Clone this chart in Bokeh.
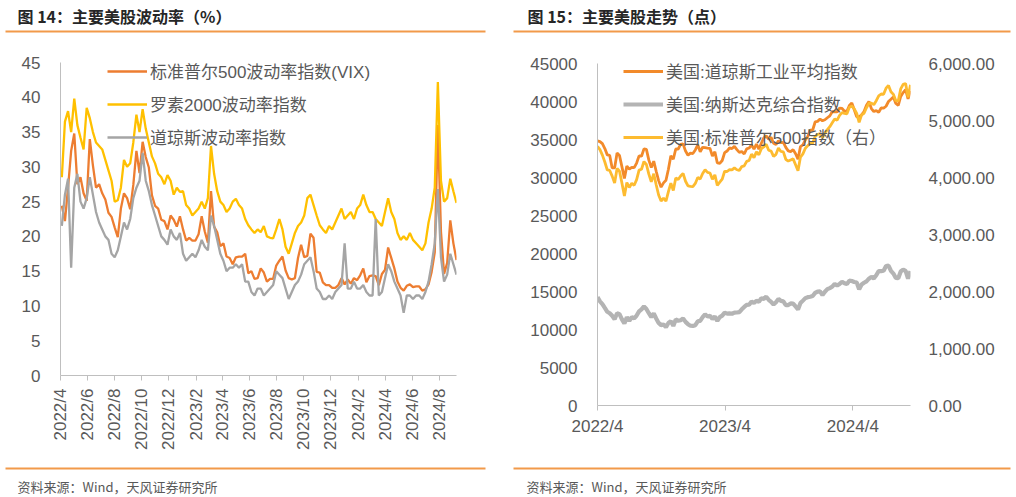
import math
import pandas as pd
from bokeh.plotting import figure
from bokeh.models import (Range1d, LinearAxis, FixedTicker, NumeralTickFormatter,
                          Legend, LegendItem, Label)
from bokeh.layouts import row, column
from bokeh.embed import file_html
from bokeh.resources import INLINE

# ---------------- data: chart 14 (weekly samples) ----------------
vol_start = "2022-04-04"
vix = [24.4, 22.2, 27.0, 32.3, 34.8, 27.5, 28.5, 26.2, 25.1, 34.0,
       30.2, 27.0, 27.5, 26.2, 25.3, 23.4, 22.8, 21.3, 19.9, 24.0,
       26.2, 25.5, 23.9, 27.4, 32.3, 29.1, 33.6, 31.4, 29.9, 25.9,
       24.4, 24.0, 22.4, 22.2, 21.0, 23.0, 22.4, 21.4, 22.9, 21.0,
       19.4, 19.8, 19.4, 19.4, 20.3, 22.9, 20.7, 19.1, 26.5, 21.4,
       20.6, 18.6, 19.0, 17.1, 16.9, 16.0, 17.0, 17.1, 17.1, 17.5,
       14.7, 15.0, 13.9, 14.0, 15.4, 14.8, 13.5, 13.9, 13.9, 15.8,
       16.5, 17.1, 15.1, 14.0, 13.8, 14.0, 16.9, 18.8, 17.0, 17.2,
       20.4, 19.8, 14.9, 14.8, 13.4, 13.0, 13.0, 12.6, 12.6, 13.0,
       14.0, 13.1, 13.8, 13.2, 14.0, 13.7, 14.4, 15.4, 13.4, 14.3,
       14.4, 14.3, 13.0, 14.6, 15.2, 18.4, 16.9, 15.4, 13.5, 12.6,
       12.2, 12.9, 13.1, 12.7, 12.8, 12.8, 12.2, 12.4, 13.1, 14.9,
       17.7, 36.0, 20.7, 14.6, 16.2, 22.3, 19.0, 16.6]
rvx = [28.5, 36.5, 38.0, 35.0, 39.8, 36.0, 34.2, 32.5, 38.5, 37.0,
       35.0, 33.5, 33.0, 32.5, 31.0, 29.5, 28.0, 25.0, 25.2, 27.0,
       31.0, 30.0, 30.5, 33.5, 37.5, 35.0, 38.3, 35.5, 33.5, 31.5,
       30.5, 29.0, 28.5, 27.5, 28.8, 28.0, 26.0, 27.0, 26.4, 26.5,
       24.5, 24.0, 23.0, 23.5, 24.0, 25.0, 24.0, 25.5, 33.0, 29.0,
       26.5, 25.0, 24.5, 23.5, 24.0, 25.0, 25.4, 24.5, 24.0, 22.5,
       21.6, 21.0, 20.5, 21.0, 20.6, 21.5, 20.0, 19.8, 19.7, 21.0,
       22.5, 21.0, 18.5, 17.5, 19.0, 20.5, 21.5, 22.0, 23.0, 25.5,
       26.0, 24.5, 23.0, 21.6, 21.0, 20.5, 21.5, 21.0, 22.0, 23.0,
       24.0, 22.5, 23.0, 23.5, 22.5, 24.0, 24.5, 26.0, 24.5, 23.5,
       23.5, 22.5, 22.0, 21.5, 23.5, 25.5, 23.5, 22.5, 20.5, 19.5,
       20.0, 19.5, 20.5, 19.5, 19.0, 18.5, 18.0, 19.0, 22.0, 24.0,
       27.0, 42.2, 28.0, 25.0, 25.5, 28.3, 26.5, 24.8]
vxd = [21.5, 26.0, 28.3, 15.5, 27.0, 29.0, 25.0, 24.0, 25.5, 28.5,
       26.0, 23.5, 22.0, 21.0, 20.0, 19.5, 17.5, 17.0, 18.0, 20.0,
       22.0, 21.0, 22.5, 25.5, 27.0, 28.0, 32.0, 28.0, 26.5, 24.5,
       23.0, 21.5, 20.0, 19.5, 18.8, 21.0, 20.0, 19.5, 20.5, 17.5,
       16.5, 17.0, 17.5, 17.0, 18.0, 19.5, 18.5, 18.0, 23.0, 21.5,
       19.5, 17.5, 16.5, 15.0, 15.5, 15.5, 16.0, 15.5, 16.0, 13.5,
       13.5, 12.0, 11.5, 12.5, 12.5, 11.5, 12.0, 12.5, 13.0, 15.0,
       14.5, 14.0, 12.5, 11.0, 12.0, 13.0, 13.5, 14.5, 16.0, 16.5,
       17.0, 15.0, 12.5, 12.0, 11.0, 11.0, 11.5, 11.0, 12.0, 12.5,
       13.0, 19.0, 12.5, 12.5, 13.5, 12.5, 12.5, 13.0, 12.0, 11.5,
       11.5, 22.5, 11.5, 12.0, 14.0, 16.0, 15.0, 13.5, 12.5, 11.5,
       9.0, 11.5, 11.5, 11.0, 11.5, 11.5, 11.0, 12.0, 13.5, 16.0,
       19.0, 26.8, 17.0, 13.5, 14.5, 17.5, 16.0, 14.5]
vol_names = ["标准普尔500波动率指数(VIX)", "罗素2000波动率指数", "道琼斯波动率指数"]
vol_ticks = ["2022/4", "2022/6", "2022/8", "2022/10", "2022/12", "2023/2", "2023/4",
             "2023/6", "2023/8", "2023/10", "2023/12", "2024/2", "2024/4", "2024/6", "2024/8"]
vol_yticks = [0, 5, 10, 15, 20, 25, 30, 35, 40, 45]

# ---------------- data: chart 15 (weekly closes) ----------------
idx_start = "2022-04-01"
dow = [34818, 34721, 34451, 33811, 32977,
       32899, 31261, 31262, 33213,
       32899, 31393, 29888, 31501,
       31097, 31338, 31288, 31899, 32845,
       32803, 33761, 33706, 32283,
       31318, 32152, 30822, 29590, 28726,
       29297, 29635, 31083, 32861,
       32403, 33748, 33746, 34347,
       34430, 33477, 32920, 33204, 33147,
       33631, 34303, 33375, 33978,
       33926, 33869, 33827, 32817,
       33391, 31910, 31862, 32238, 33274,
       33485, 33886, 33809, 34098,
       33674, 33300, 33427, 33093,
       33762, 33877, 34299, 33727, 34408,
       33734, 34509, 35228, 35459,
       35066, 35281, 34500, 34346,
       34838, 34577, 34618, 33964, 33508,
       33407, 33670, 33127, 32418,
       34061, 34283, 34947, 35390,
       36246, 36248, 37306, 37386, 37690,
       37466, 37593, 37863, 38109,
       38654, 38672, 38628, 39131,
       39087, 38723, 38715, 39476, 39807,
       38905, 37983, 37986, 38240,
       38676, 39513, 40004, 39070, 38686,
       38799, 38589, 39150, 39119,
       39376, 40001, 40288, 40589,
       39737, 39498, 40660, 41175, 41563,
       40345, 41394]
nasdaq = [14262, 13711, 13351, 12840, 12335,
          12145, 11805, 11355, 12131,
          12013, 11340, 10798, 11608,
          11128, 11635, 11452, 11834, 12391,
          12657, 13047, 12705, 12142,
          11631, 12112, 11448, 10868, 10576,
          10652, 10321, 10860, 11102,
          10475, 11323, 11146, 11226,
          11462, 11005, 10705, 10498, 10466,
          10569, 11079, 11140, 11622,
          12006, 11718, 11787, 11395,
          11689, 11139, 11631, 11824, 12222,
          12088, 12124, 12073, 12227,
          12235, 12285, 12658, 12976,
          13241, 13259, 13690, 13492, 13788,
          13661, 14114, 14033, 14317,
          13909, 13645, 13291, 13590,
          14031, 13762, 13709, 13212, 13219,
          13431, 13407, 13029, 12643,
          13478, 13798, 14125, 14251,
          14305, 14404, 14814, 14993, 15011,
          14524, 14973, 15311, 15455,
          15629, 15990, 15776, 15997,
          16275, 16085, 15973, 16429, 16379,
          16249, 16175, 15282, 15928,
          16156, 16341, 16686, 16921, 16735,
          17133, 17689, 17689, 17733,
          18353, 18398, 17727, 17358,
          16776, 16745, 17631, 17878, 17714,
          16691, 17684]
spx = [4546, 4488, 4393, 4272, 4132,
       4123, 4024, 3901, 4158,
       4109, 3901, 3675, 3912,
       3825, 3899, 3863, 3962, 4130,
       4145, 4280, 4228, 4058,
       3924, 4067, 3873, 3693, 3586,
       3640, 3583, 3752, 3901,
       3771, 3993, 3965, 4026,
       4072, 3934, 3852, 3845, 3840,
       3895, 3999, 3973, 4071,
       4136, 4090, 4079, 3970,
       4046, 3862, 3917, 3971, 4109,
       4105, 4138, 4133, 4169,
       4136, 4124, 4192, 4205,
       4282, 4299, 4410, 4348, 4450,
       4399, 4505, 4536, 4582,
       4478, 4464, 4370, 4406,
       4516, 4457, 4450, 4320, 4288,
       4308, 4327, 4224, 4117,
       4358, 4415, 4514, 4559,
       4595, 4604, 4719, 4755, 4770,
       4697, 4784, 4840, 4891,
       4959, 5027, 5006, 5089,
       5137, 5124, 5117, 5234, 5254,
       5204, 5123, 4967, 5100,
       5128, 5223, 5303, 5305, 5278,
       5347, 5432, 5465, 5460,
       5567, 5615, 5505, 5459,
       5347, 5344, 5554, 5634, 5648,
       5408, 5626]
idx_names = ["美国:道琼斯工业平均指数", "美国:纳斯达克综合指数", "美国:标准普尔500指数（右）"]
idx_ticks = ["2022/4", "2023/4", "2024/4"]
idx_yticks = [0, 5000, 10000, 15000, 20000, 25000, 30000, 35000, 40000, 45000]
idx_y2ticks = [0, 1000, 2000, 3000, 4000, 5000, 6000]

titles = ["图 14：主要美股波动率（%）", "图 15：主要美股走势（点）"]
source = "资料来源：Wind，天风证券研究所"

# ---------------- styling ----------------
NUM_FONT = "'Liberation Sans', 'Noto Sans CJK SC', sans-serif"
CJK_FONT = "'Noto Sans CJK SC', sans-serif"
TXT = "#595959"
AX = "#BFBFBF"
ACCENT = "#F29A4A"
PAGE_W = 1016
HALF_W = 508
HEAD_H, CHART_H, FOOT_H = 40, 420, 36


def to_ms(label):
    return pd.Timestamp(pd.to_datetime(label + "/1", format="%Y/%m/%d")).value // 10**6


def strip_fig(height):
    f = figure(width=PAGE_W, height=height, output_backend="svg", toolbar_location=None,
               x_range=Range1d(0, PAGE_W), y_range=Range1d(height, 0),
               min_border=0, min_border_left=0, min_border_right=0,
               min_border_top=0, min_border_bottom=0)
    f.axis.visible = False
    f.grid.visible = False
    f.outline_line_color = None
    f.background_fill_color = "white"
    f.border_fill_color = "white"
    return f


def base_style(p):
    p.outline_line_color = None
    p.xgrid.visible = False
    p.ygrid.visible = False
    p.background_fill_color = "white"
    p.border_fill_color = "white"


def style_axis(ax, line=True):
    ax.axis_line_color = AX if line else None
    ax.major_label_text_color = TXT
    ax.major_label_text_font = NUM_FONT
    ax.major_label_text_font_size = "17px"
    ax.minor_tick_line_color = None
    ax.major_tick_line_color = AX


# ---------------- header (titles + rules) ----------------
head = strip_fig(HEAD_H)
for tx, t in zip([17, 527], titles):
    head.add_layout(Label(x=tx, y=15, text=t, text_font=CJK_FONT, text_font_size="16px",
                          text_font_style="bold", text_color="#262626",
                          text_baseline="middle", text_align="left"))
head.segment(x0=[5, 513], y0=[31, 31], x1=[485, 1010], y1=[31, 31],
             line_color=ACCENT, line_width=2)

# ---------------- footer (rules + source) ----------------
foot = strip_fig(FOOT_H)
foot.segment(x0=[5, 513], y0=[8, 8], x1=[485, 1010], y1=[8, 8],
             line_color=ACCENT, line_width=2)
for tx in [17, 526]:
    foot.add_layout(Label(x=tx, y=26, text=source, text_font=CJK_FONT,
                          text_font_size="13px", text_color=TXT,
                          text_baseline="middle", text_align="left"))

# ---------------- chart 14 ----------------
BL1, BR1, BT1, BB1 = 60, 52, 22, 85
p1 = figure(width=HALF_W, height=CHART_H, x_axis_type="datetime", output_backend="svg",
            toolbar_location=None, min_border_left=BL1, min_border_right=BR1,
            min_border_top=BT1, min_border_bottom=BB1,
            x_range=Range1d(pd.Timestamp("2022-04-01"), pd.Timestamp("2024-09-09")),
            y_range=Range1d(0, 45))
base_style(p1)
vol_dates = pd.date_range(vol_start, periods=len(vix), freq="W-MON")
r_vix = p1.line(vol_dates, vix, line_color="#ED7D31", line_width=2.3)
r_rvx = p1.line(vol_dates, rvx, line_color="#FFC000", line_width=2.3)
r_vxd = p1.line(vol_dates, vxd, line_color="#A5A5A5", line_width=2.3)

xt1 = [to_ms(t) for t in vol_ticks]
p1.xaxis.ticker = FixedTicker(ticks=xt1)
p1.xaxis.major_label_overrides = {t: l for t, l in zip(xt1, vol_ticks)}
p1.xaxis.major_label_orientation = math.pi / 2
p1.yaxis.ticker = FixedTicker(ticks=vol_yticks)
for ax in p1.xaxis:
    style_axis(ax)
    ax.major_tick_out = 5
    ax.major_tick_in = 0
    ax.major_label_standoff = 8
for ax in p1.yaxis:
    style_axis(ax)
    ax.major_tick_out = 0
    ax.major_tick_in = 0
    ax.major_label_standoff = 20

leg1 = Legend(items=[LegendItem(label=n, renderers=[r]) for n, r in
                     zip(vol_names, [r_vix, r_rvx, r_vxd])],
              location=(47, 226), orientation="vertical",
              label_text_font=NUM_FONT, label_text_font_size="17px",
              label_text_color=TXT, glyph_width=40, glyph_height=24,
              label_height=24, spacing=8, padding=0, margin=0, label_standoff=3,
              border_line_alpha=0, background_fill_alpha=0)
p1.add_layout(leg1)

# ---------------- chart 15 ----------------
BL2, BR2, BT2, BB2 = 89, 106, 23, 55
p2 = figure(width=HALF_W, height=CHART_H, x_axis_type="datetime", output_backend="svg",
            toolbar_location=None, min_border_left=BL2, min_border_right=BR2,
            min_border_top=BT2, min_border_bottom=BB2,
            x_range=Range1d(pd.Timestamp("2022-04-01"), pd.Timestamp("2024-09-13")),
            y_range=Range1d(0, 45000))
base_style(p2)
p2.extra_y_ranges = {"spx": Range1d(0, 6000)}
idx_dates = pd.date_range(idx_start, periods=len(dow), freq="W-FRI")
r_dow = p2.line(idx_dates, dow, line_color="#F28A2A", line_width=2.8)
r_ndq = p2.line(idx_dates, nasdaq, line_color="#B4B4B4", line_width=4.2)
r_spx = p2.line(idx_dates, spx, line_color="#FDBB30", line_width=2.8, y_range_name="spx")

xt2 = [to_ms(t) for t in idx_ticks]
p2.xaxis.ticker = FixedTicker(ticks=xt2)
p2.xaxis.major_label_overrides = {t: l for t, l in zip(xt2, idx_ticks)}
p2.yaxis.ticker = FixedTicker(ticks=idx_yticks)
p2.yaxis.formatter = NumeralTickFormatter(format="0")
ax_r = LinearAxis(y_range_name="spx", ticker=FixedTicker(ticks=idx_y2ticks),
                  formatter=NumeralTickFormatter(format="0,0.00"))
p2.add_layout(ax_r, "right")
for ax in p2.xaxis:
    style_axis(ax)
    ax.major_tick_out = 5
    ax.major_tick_in = 0
    ax.major_label_standoff = 6
for ax in p2.yaxis:
    style_axis(ax)
    ax.major_tick_out = 0
    ax.major_tick_in = 0
    ax.major_label_standoff = 20
style_axis(ax_r, line=False)
ax_r.major_tick_line_color = None
ax_r.major_label_standoff = 18

leg2 = Legend(items=[LegendItem(label=n, renderers=[r]) for n, r in
                     zip(idx_names, [r_dow, r_ndq, r_spx])],
              location=(26, 256), orientation="vertical",
              label_text_font=NUM_FONT, label_text_font_size="17px",
              label_text_color=TXT, glyph_width=40, glyph_height=24,
              label_height=24, spacing=8, padding=0, margin=0, label_standoff=3,
              border_line_alpha=0, background_fill_alpha=0)
p2.add_layout(leg2)

layout = column(head, row(column(p1), column(p2)), foot)
open("out.html", "w").write(file_html(layout, INLINE))
